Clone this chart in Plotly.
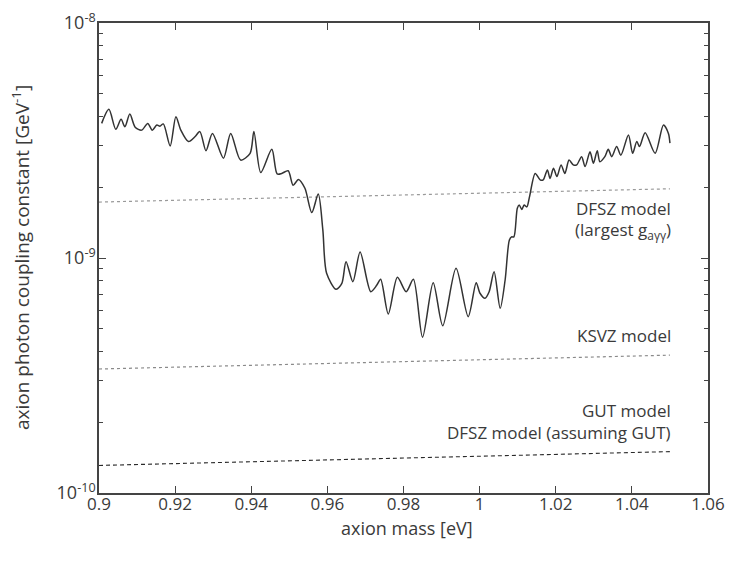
import plotly.graph_objects as go

# Measured limit curve: axion mass [eV] and coupling constant [GeV^-1]
mass = [0.9007, 0.9026, 0.9044, 0.9058, 0.9068, 0.9081, 0.9095, 0.9112, 0.9128, 0.9140,
        0.9152, 0.9160, 0.9169, 0.9187, 0.9202, 0.9215, 0.9235, 0.9252, 0.9265, 0.9281,
        0.9298, 0.9327, 0.9346, 0.9372, 0.9397, 0.9407, 0.9425, 0.9454, 0.9468, 0.9480,
        0.9497, 0.9510, 0.9524, 0.9541, 0.9559, 0.9576, 0.9588, 0.9598, 0.9623, 0.9638,
        0.9649, 0.9667, 0.9686, 0.9714, 0.9730, 0.9740, 0.9760, 0.9784, 0.9807, 0.9826,
        0.9850, 0.9878, 0.9903, 0.9938, 0.9970, 0.9991, 1.0001, 1.0014, 1.0025, 1.0038,
        1.0054, 1.0067, 1.0078, 1.0084, 1.0090, 1.0099, 1.0104, 1.0111, 1.0117, 1.0124,
        1.0131, 1.0146, 1.0159, 1.0167, 1.0178, 1.0185, 1.0194, 1.0203, 1.0214, 1.0224,
        1.0235, 1.0246, 1.0255, 1.0268, 1.0277, 1.0290, 1.0299, 1.0309, 1.0316, 1.0329,
        1.0338, 1.0347, 1.0360, 1.0371, 1.0391, 1.0402, 1.0413, 1.0420, 1.0435, 1.0461,
        1.0483, 1.0496, 1.0500]
coupling = [3.74e-9, 4.29e-9, 3.53e-9, 3.89e-9, 3.62e-9, 4.10e-9, 3.60e-9, 3.50e-9, 3.74e-9, 3.50e-9,
            3.68e-9, 3.64e-9, 3.72e-9, 3.00e-9, 3.99e-9, 3.50e-9, 3.13e-9, 3.28e-9, 3.45e-9, 2.86e-9,
            3.39e-9, 2.66e-9, 3.39e-9, 2.61e-9, 2.79e-9, 3.45e-9, 2.31e-9, 2.90e-9, 2.28e-9, 2.29e-9,
            2.35e-9, 2.04e-9, 2.16e-9, 1.98e-9, 1.56e-9, 1.87e-9, 1.32e-9, 8.61e-10, 7.36e-10, 7.80e-10,
            9.65e-10, 7.93e-10, 1.06e-9, 7.19e-10, 7.67e-10, 8.12e-10, 5.78e-10, 8.28e-10, 7.19e-10, 8.12e-10,
            4.60e-10, 7.85e-10, 5.15e-10, 9.04e-10, 5.63e-10, 7.85e-10, 7.08e-10, 6.74e-10, 7.19e-10, 8.74e-10,
            6.11e-10, 8.06e-10, 1.19e-9, 1.23e-9, 1.23e-9, 1.63e-9, 1.68e-9, 1.61e-9, 1.68e-9, 1.65e-9,
            1.82e-9, 2.29e-9, 2.15e-9, 2.15e-9, 2.37e-9, 2.18e-9, 2.41e-9, 2.22e-9, 2.49e-9, 2.29e-9,
            2.61e-9, 2.49e-9, 2.49e-9, 2.70e-9, 2.45e-9, 2.83e-9, 2.53e-9, 2.86e-9, 2.57e-9, 2.70e-9,
            2.90e-9, 2.70e-9, 2.98e-9, 2.74e-9, 3.34e-9, 2.79e-9, 3.13e-9, 2.98e-9, 3.41e-9, 2.79e-9,
            3.68e-9, 3.39e-9, 3.08e-9]

# Model lines (end points)
model_mass = [0.90, 1.05]
dfsz_largest = [1.73e-9, 1.97e-9]
ksvz = [3.37e-10, 3.86e-10]
gut = [1.31e-10, 1.50e-10]

x_ticks = [0.9, 0.92, 0.94, 0.96, 0.98, 1.0, 1.02, 1.04, 1.06]
x_tick_text = ["0.9", "0.92", "0.94", "0.96", "0.98", "1", "1.02", "1.04", "1.06"]
y_ticks = [1e-10, 1e-9, 1e-8]
y_tick_text = ["10<sup>-10</sup>", "10<sup>-9</sup>", "10<sup>-8</sup>"]
y_minor = [k * 1e-10 for k in range(2, 10)] + [k * 1e-9 for k in range(2, 10)]

FONT = "Open Sans, Lato, DejaVu Sans, sans-serif"
TXT = "#3a3a3a"

fig = go.Figure()
fig.add_trace(go.Scatter(x=model_mass, y=dfsz_largest, mode="lines",
                         line=dict(color="#9a9a9a", width=1.2, dash="dot"), hoverinfo="skip"))
fig.add_trace(go.Scatter(x=model_mass, y=ksvz, mode="lines",
                         line=dict(color="#8a8a8a", width=1.2, dash="dot"), hoverinfo="skip"))
fig.add_trace(go.Scatter(x=model_mass, y=gut, mode="lines",
                         line=dict(color="#2a2a2a", width=1.1, dash="4px,3px"), hoverinfo="skip"))
fig.add_trace(go.Scatter(x=mass, y=coupling, mode="lines",
                         line=dict(color="#333333", width=1.5, shape="spline", smoothing=0.8)))

axis_common = dict(showline=True, linecolor="#444", linewidth=1.5, mirror="ticks",
                   ticks="inside", tickcolor="#444", showgrid=False, zeroline=False,
                   automargin=False, ticklabeloverflow="allow")

fig.update_xaxes(range=[0.9, 1.06], tickvals=x_ticks, ticktext=x_tick_text, ticklen=7,
                 ticklabelstandoff=-5, tickfont=dict(family=FONT, size=17, color=TXT), **axis_common)
fig.update_yaxes(type="log", range=[-10, -8], tickvals=y_ticks, ticktext=y_tick_text, ticklen=7,
                 ticklabelstandoff=-2, tickfont=dict(family=FONT, size=18, color=TXT),
                 minor=dict(tickvals=y_minor, ticks="inside", ticklen=4, tickcolor="#444", showgrid=False),
                 **axis_common)

title_font = dict(family=FONT, size=18, color=TXT)
fig.add_annotation(x=0.505, y=-0.075, xref="paper", yref="paper", text="axion mass [eV]",
                   showarrow=False, xanchor="center", yanchor="middle", font=title_font)
fig.add_annotation(x=-0.128, y=0.5, xref="paper", yref="paper",
                   text="axion photon coupling constant [GeV<sup>-1</sup>]", textangle=-90,
                   showarrow=False, xanchor="center", yanchor="middle", font=dict(family=FONT, size=19, color=TXT))

ann_font = dict(family=FONT, size=17, color=TXT)
labels = [
    ("DFSZ model", 0.606),
    ("(largest g<sub>aγγ</sub>)", 0.559),
    ("KSVZ model", 0.335),
    ("GUT model", 0.1745),
    ("DFSZ model (assuming GUT)", 0.1277),
]
for text, yy in labels:
    fig.add_annotation(x=0.9425, y=yy, xref="paper", yref="paper", text=text, showarrow=False,
                       xanchor="right", yanchor="middle", font=ann_font)

# page body adds an 8px offset, so margins are set to put the plot area at 99..708 x 23..493
fig.update_layout(width=733, height=562, margin=dict(l=91, r=33, t=15, b=77),
                  paper_bgcolor="white", plot_bgcolor="white", showlegend=False)

fig.write_html("out.html")
